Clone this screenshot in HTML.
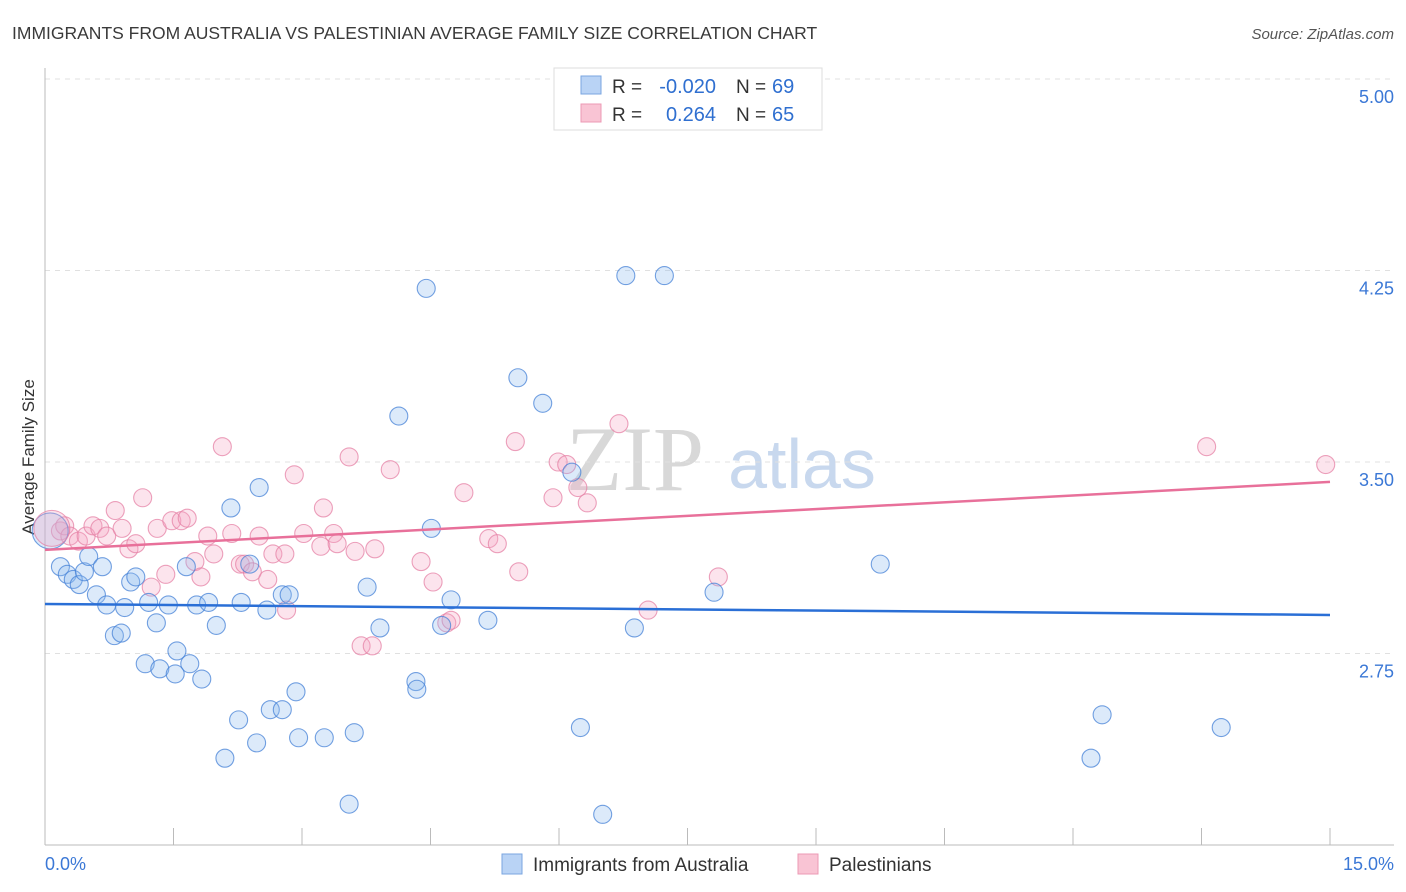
<!DOCTYPE html>
<html><head><meta charset="utf-8"><style>
body{margin:0;background:#fff;font-family:"Liberation Sans",sans-serif;}
#wrap{position:relative;width:1406px;height:892px;overflow:hidden;}
</style></head><body>
<div id="wrap">
<svg id="svg" width="1406" height="892" xmlns="http://www.w3.org/2000/svg">
<text x="12" y="39" font-size="17.5" fill="#3a3a3a">IMMIGRANTS FROM AUSTRALIA VS PALESTINIAN AVERAGE FAMILY SIZE CORRELATION CHART</text>
<text x="1394" y="39" font-size="15" fill="#555" font-style="italic" text-anchor="end">Source: ZipAtlas.com</text>
<text x="34" y="457" font-size="17" fill="#333" text-anchor="middle" transform="rotate(-90 34 457)">Average Family Size</text>
<text x="635" y="490" font-size="92" fill="#d8d8d8" font-family="Liberation Serif,serif" text-anchor="middle">ZIP</text>
<text x="802" y="488" font-size="70" fill="#c8d8ee" text-anchor="middle">atlas</text>
<g id="grid"></g><g id="pts"></g><g id="lines"></g>
<g>
<rect x="554" y="68" width="268" height="62" fill="#fff" stroke="#ddd"/>
<rect x="581" y="76" width="20" height="18" fill="#b9d3f5" stroke="#7aa6e0"/>
<rect x="581" y="104" width="20" height="18" fill="#f9c4d4" stroke="#ec9ab4"/>
<text x="612" y="93" font-size="19" fill="#333">R =</text>
<text x="716" y="93" font-size="20" fill="#2f6fd0" text-anchor="end">-0.020</text>
<text x="736" y="93" font-size="19" fill="#333">N =</text>
<text x="772" y="93" font-size="20" fill="#2f6fd0">69</text>
<text x="612" y="121" font-size="19" fill="#333">R =</text>
<text x="716" y="121" font-size="20" fill="#2f6fd0" text-anchor="end">0.264</text>
<text x="736" y="121" font-size="19" fill="#333">N =</text>
<text x="772" y="121" font-size="20" fill="#2f6fd0">65</text>
</g>
<g>
<rect x="502" y="854" width="20" height="20" fill="#b9d3f5" stroke="#7aa6e0"/>
<text x="533" y="871" font-size="19" fill="#333">Immigrants from Australia</text>
<rect x="798" y="854" width="20" height="20" fill="#f9c4d4" stroke="#ec9ab4"/>
<text x="829" y="871" font-size="19" fill="#333">Palestinians</text>
</g>
<text x="45" y="870" font-size="18" fill="#3b78d6">0.0%</text>
<text x="1394" y="870" font-size="18" fill="#3b78d6" text-anchor="end">15.0%</text>
</svg>
</div>
<script>
const yTicks=[5.00,4.25,3.50,2.75];
const yTickLabels=["5.00","4.25","3.50","2.75"];
const blueX=[0.18,0.26,0.33,0.40,0.46,0.51,0.60,0.67,0.72,0.81,0.89,0.93,1.00,1.06,1.17,1.21,1.30,1.34,1.44,1.52,1.54,1.65,1.69,1.77,1.83,1.91,2.00,2.10,2.17,2.26,2.29,2.39,2.47,2.50,2.59,2.63,2.77,2.77,2.85,2.93,2.96,3.26,3.55,3.61,3.76,3.91,4.13,4.33,4.34,4.45,4.51,4.63,4.74,5.17,5.52,5.81,6.15,6.25,6.51,6.78,6.88,7.23,7.81,9.75,12.21,12.34,13.73];
const blueY=[3.09,3.06,3.04,3.02,3.07,3.13,2.98,3.09,2.94,2.82,2.83,2.93,3.03,3.05,2.71,2.95,2.87,2.69,2.94,2.67,2.76,3.09,2.71,2.94,2.65,2.95,2.86,2.34,3.32,2.49,2.95,3.10,2.40,3.40,2.92,2.53,2.53,2.98,2.98,2.60,2.42,2.42,2.16,2.44,3.01,2.85,3.68,2.64,2.61,4.18,3.24,2.86,2.96,2.88,3.83,3.73,3.46,2.46,2.12,4.23,2.85,4.23,2.99,3.10,2.34,2.51,2.46];
const pinkX=[0.18,0.23,0.29,0.39,0.48,0.56,0.64,0.72,0.82,0.90,0.98,1.06,1.14,1.24,1.31,1.41,1.48,1.59,1.66,1.75,1.82,1.90,1.97,2.07,2.18,2.28,2.33,2.42,2.50,2.60,2.66,2.80,2.82,2.91,3.02,3.22,3.25,3.37,3.41,3.55,3.62,3.69,3.82,3.85,4.03,4.39,4.53,4.69,4.74,4.89,5.18,5.28,5.49,5.53,5.93,5.99,6.09,6.22,6.33,6.70,7.04,7.86,13.56,14.95];
const pinkY=[3.23,3.25,3.21,3.19,3.21,3.25,3.24,3.21,3.31,3.24,3.16,3.18,3.36,3.01,3.24,3.06,3.27,3.27,3.28,3.11,3.05,3.21,3.14,3.56,3.22,3.10,3.10,3.07,3.21,3.04,3.14,3.14,2.92,3.45,3.22,3.17,3.32,3.22,3.18,3.52,3.15,2.78,2.78,3.16,3.47,3.11,3.03,2.87,2.88,3.38,3.20,3.18,3.58,3.07,3.36,3.50,3.49,3.40,3.34,3.65,2.92,3.05,3.56,3.49];
const bigPoints=[{x:0.06,y:3.23,c:"blue"},{x:0.08,y:3.24,c:"pink"}];
const blueTrend=[2.944,2.901];
const pinkTrend=[3.156,3.422];
const xDomain=[0,15];
const NS="http://www.w3.org/2000/svg";
const sx=v=>45+(v-xDomain[0])/(xDomain[1]-xDomain[0])*1285;
const sy=v=>79+(5-v)/0.75*191.5;
function mk(t,a,p){const e=document.createElementNS(NS,t);for(const k in a)e.setAttribute(k,a[k]);p.appendChild(e);return e;}
const grid=document.getElementById('grid');
yTicks.forEach((t,i)=>{
  const l=mk('line',{x1:45,x2:1394,y1:sy(t),y2:sy(t),stroke:'#e0e0e0','stroke-dasharray':'5,5'},grid);
  
  
  const tx=mk('text',{x:1394,y:sy(t)+24,'font-size':18,fill:'#3b78d6','text-anchor':'end'},grid);
  tx.textContent=yTickLabels[i];
  
  
});
const ax=mk('line',{x1:45,x2:45,y1:68,y2:845,stroke:'#bbb'},grid);


const bx=mk('line',{x1:45,x2:1394,y1:845,y2:845,stroke:'#bbb'},grid);


for(let i=0;i<=10;i++){
  const v=i*1.5;
  const t=mk('line',{x1:sx(v),x2:sx(v),y1:828,y2:845,stroke:'#bbb'},grid);
  
  
}
const pts=document.getElementById('pts');
const style={blue:{fill:'rgba(140,185,240,0.3)',stroke:'rgba(70,130,215,0.75)'},pink:{fill:'rgba(245,165,195,0.3)',stroke:'rgba(230,130,165,0.75)'}};
function dot(x,y,c,r){
  const e=mk('circle',{cx:sx(x),cy:sy(y),r:r,fill:style[c].fill,stroke:style[c].stroke,'stroke-width':1.1},pts);
  
  
}
pinkX.forEach((x,i)=>dot(x,pinkY[i],'pink',9));
blueX.forEach((x,i)=>dot(x,blueY[i],'blue',9));
bigPoints.forEach(p=>dot(p.x,p.y,p.c,18));
const lines=document.getElementById('lines');
const bl=mk('line',{x1:sx(0),x2:sx(15),y1:sy(blueTrend[0]),y2:sy(blueTrend[1]),stroke:'#2a6fd6','stroke-width':2.5},lines);


const pl=mk('line',{x1:sx(0),x2:sx(15),y1:sy(pinkTrend[0]),y2:sy(pinkTrend[1]),stroke:'#e8709a','stroke-width':2.5},lines);


</script>
</body></html>
